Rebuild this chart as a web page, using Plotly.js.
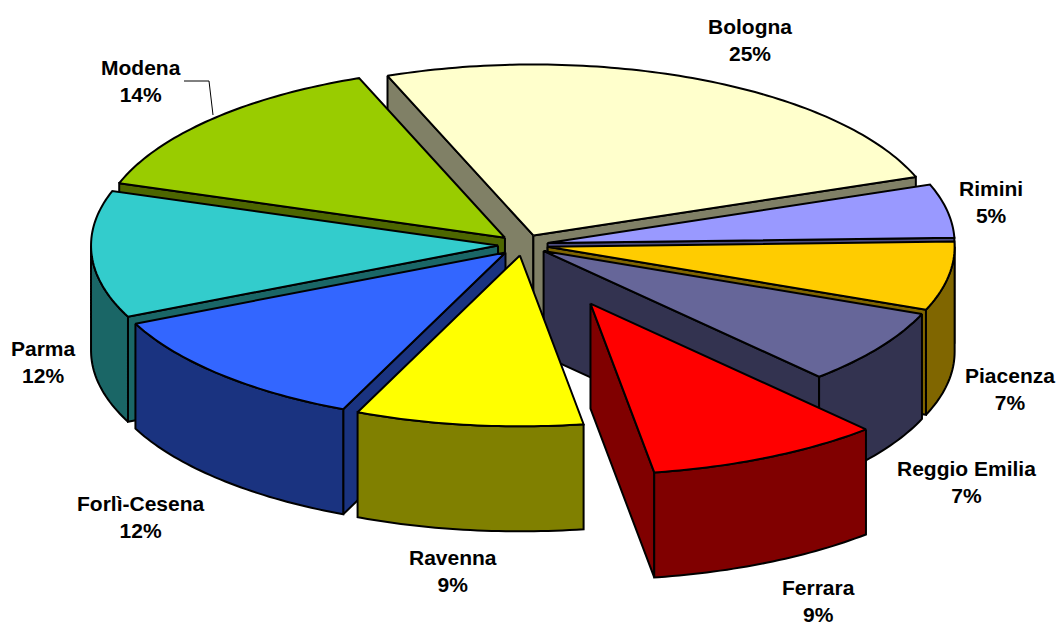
<!DOCTYPE html>
<html>
<head>
<meta charset="utf-8">
<script src="https://cdn.plot.ly/plotly-3.0.1.min.js"></script>
<style>html,body{margin:0;padding:0;background:#fff}#chart{width:1059px;height:624px}</style>
</head>
<body>
<div id="chart"></div>
<script>
// Data
const provinces = ['Bologna','Rimini','Piacenza','Reggio Emilia','Ferrara','Ravenna','Forlì-Cesena','Parma','Modena'];
const labels    = ['25%','5%','7%','7%','9%','9%','12%','12%','14%'];
const shares    = [25.28,5.06,6.5,7.16,9.33,9.03,11.64,12.0,14.0];
// Styles
const topColors  = ['#FFFFCC','#9999FF','#FFCC00','#666699','#FF0000','#FFFF00','#3366FF','#33CCCC','#99CC00'];
const wallColors = ['#808066','#4D4D80','#806600','#333350','#800000','#808000','#1A3380','#1A6666','#4D6600'];
const pulls      = [25,25,25,25,155,25,25,25,25];
// Label anchors, in axis units
const labelX = [750,991,1010,966,818,453,141,43,141];
const labelY = [40,202,389,482,601,571,517,362,81];
// Pie geometry
const cx = 523, cy = 245, rx = 407, tilt = 0.42, depth = 105, startDeg = -21;

const rad = d => d * Math.PI / 180;
const total = shares.reduce((a,b)=>a+b,0);
const traces = [];
const face = (pts, fill) => traces.push({
  type:'scatter', mode:'lines', x:pts.map(p=>p[0]), y:pts.map(p=>p[1]),
  fill:'toself', fillcolor:fill, line:{color:'#000',width:2,simplify:false},
  hoverinfo:'skip', showlegend:false
});

let acc = startDeg;
const slices = shares.map((v,i)=>{
  const s = acc, e = acc + v/total*360; acc = e;
  const m = (s+e)/2;
  const ax = cx + pulls[i]*Math.sin(rad(m));
  const ay = cy - pulls[i]*Math.cos(rad(m))*tilt;
  const at = d => [ax + rx*Math.sin(rad(d)), ay - rx*tilt*Math.cos(rad(d))];
  return {i,s,e,m,ax,ay,at};
});
slices.sort((a,b)=>Math.cos(rad(b.m))-Math.cos(rad(a.m)));

const down = p => [p[0], p[1]+depth];
slices.forEach(sl=>{
  const {i,s,e,ax,ay,at} = sl;
  const apex = [ax,ay];
  // radial walls facing the viewer
  if (Math.sin(rad(s)) < 0) face([apex,at(s),down(at(s)),down(apex),apex], wallColors[i]);
  if (Math.sin(rad(e)) > 0) face([apex,at(e),down(at(e)),down(apex),apex], wallColors[i]);
  // outer wall: only the near half of the rim
  const a0 = Math.max(s,90), a1 = Math.min(e,270);
  if (a1 > a0) {
    const rim = [];
    for (let d=a0; d<a1; d+=1) rim.push(at(d));
    rim.push(at(a1));
    face(rim.concat(rim.slice().reverse().map(down)).concat([rim[0]]), wallColors[i]);
  }
  // top face
  const arc = [];
  for (let d=s; d<e; d+=1) arc.push(at(d));
  arc.push(at(e));
  face([apex].concat(arc).concat([apex]), topColors[i]);
});

// Modena leader line
traces.push({type:'scatter',mode:'lines',x:[184,209,213],y:[81,81,115],
  line:{color:'#000',width:1},hoverinfo:'skip',showlegend:false});

const annotations = provinces.map((p,i)=>({
  x:labelX[i], y:labelY[i], xref:'x', yref:'y', showarrow:false,
  xanchor:'center', yanchor:'middle', align:'center',
  text:'<b>'+p+'</b><br><b>'+labels[i]+'</b>',
  font:{family:'"Liberation Sans", Arial, sans-serif', size:21, color:'#000'}
}));

Plotly.newPlot('chart', traces, {
  width:1059, height:624,
  margin:{l:0,r:0,t:0,b:0},
  paper_bgcolor:'#fff', plot_bgcolor:'#fff',
  xaxis:{range:[0,1059],visible:false,fixedrange:true},
  yaxis:{range:[624,0],visible:false,fixedrange:true},
  annotations, showlegend:false
},{displayModeBar:false,staticPlot:true});
</script>
</body>
</html>
